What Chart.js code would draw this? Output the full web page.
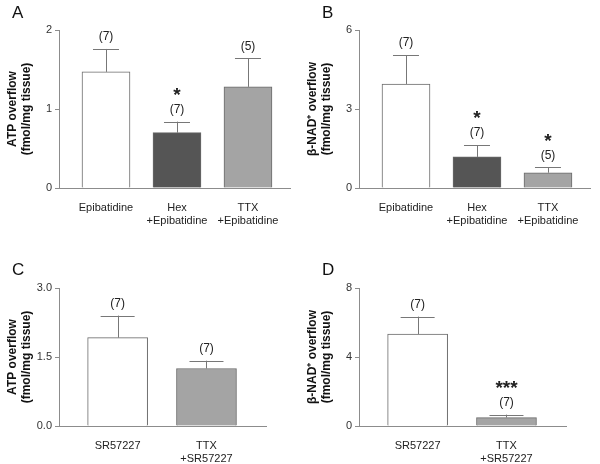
<!DOCTYPE html>
<html>
<head>
<meta charset="utf-8">
<script src="https://cdn.jsdelivr.net/npm/chart.js@4"></script>
<style>
  body { margin: 0; background: #fff; }
  .panel { position: absolute; width: 300px; height: 232px; }
  .lbl { position: absolute; font: 17px "Liberation Sans", Arial, sans-serif; color: #111; }
</style>
</head>
<body>
<div class="panel" style="left:0;top:0"><canvas id="chartA"></canvas></div>
<div class="panel" style="left:300px;top:0"><canvas id="chartB"></canvas></div>
<div class="panel" style="left:0;top:232px"><canvas id="chartC"></canvas></div>
<div class="panel" style="left:300px;top:232px"><canvas id="chartD"></canvas></div>
<div class="lbl" style="left:12px;top:3px">A</div>
<div class="lbl" style="left:322px;top:3px">B</div>
<div class="lbl" style="left:12px;top:260px">C</div>
<div class="lbl" style="left:322px;top:260px">D</div>
<script>
// top row: epibatidine
const catsAB = ['Epibatidine', ['Hex', '+Epibatidine'], ['TTX', '+Epibatidine']];
const atpA = [1.47, 0.70, 1.28];
const atpASem = [0.29, 0.14, 0.36];
const nA = ['(7)', '(7)', '(5)'];
const starsA = ['', '*', ''];
const nadB = [3.95, 1.18, 0.58];
const nadBSem = [1.10, 0.45, 0.20];
const nB = ['(7)', '(7)', '(5)'];
const starsB = ['', '*', '*'];

// bottom row: SR57227
const catsCD = ['SR57227', ['TTX', '+SR57227']];
const atpC = [1.92, 1.25];
const atpCSem = [0.48, 0.17];
const nC = ['(7)', '(7)'];
const starsC = ['', ''];
const nadD = [5.33, 0.49];
const nadDSem = [1.01, 0.17];
const nD = ['(7)', '(7)'];
const starsD = ['', '***'];

const FONT = '"Liberation Sans", Arial, sans-serif';
const AXIS = '#8c8c8c';
const WHITE = '#ffffff', DARK = '#555555', LIGHT = '#a4a4a4';

const errPlugin = {
  id: 'errBars',
  afterDatasetsDraw(chart, args, opts) {
    const { ctx } = chart;
    const y = chart.scales.y;
    const meta = chart.getDatasetMeta(0);
    const ds = chart.data.datasets[0];
    ctx.save();
    meta.data.forEach((bar, i) => {
      const v = ds.data[i].y;
      const top = y.getPixelForValue(v + opts.sem[i]);
      const base = y.getPixelForValue(v);
      ctx.strokeStyle = '#777';
      ctx.lineWidth = 1;
      ctx.beginPath();
      ctx.moveTo(Math.round(bar.x) + 0.5, base);
      ctx.lineTo(Math.round(bar.x) + 0.5, top);
      ctx.moveTo(bar.x - opts.cap, Math.round(top) + 0.5);
      ctx.lineTo(bar.x + opts.cap, Math.round(top) + 0.5);
      ctx.stroke();
      ctx.fillStyle = '#222';
      ctx.textAlign = 'center';
      ctx.textBaseline = 'middle';
      ctx.font = '12px ' + FONT;
      ctx.fillText(opts.n[i], bar.x, top - 12);
      if (opts.stars[i]) {
        ctx.font = 'bold 19px ' + FONT;
        ctx.fillText(opts.stars[i], bar.x, top - 26);
      }
    });
    ctx.restore();
  }
};

function makePanel(id, cats, vals, sem, n, stars, colors, cfg) {
  const ctx = document.getElementById(id);
  return new Chart(ctx, {
    type: 'bar',
    data: {
      datasets: [{
        data: vals.map((v, i) => ({ x: i, y: v })),
        backgroundColor: colors,
        borderColor: '#6a6a6a',
        borderWidth: 1,
        barThickness: cfg.barW
      }]
    },
    options: {
      responsive: true,
      maintainAspectRatio: false,
      animation: false,
      layout: { padding: { top: cfg.top, right: cfg.right, left: 0, bottom: 0 } },
      plugins: {
        legend: { display: false },
        tooltip: { enabled: false },
        errBars: { sem, n, stars, cap: cfg.cap }
      },
      scales: {
        x: {
          type: 'linear',
          offset: false,
          min: cfg.xmin,
          max: cfg.xmax,
          afterBuildTicks: s => { s.ticks = cats.map((_, i) => ({ value: i })); },
          afterFit: s => { s.height = cfg.xh; },
          grid: { display: false, offset: false },
          border: { color: AXIS, width: 1 },
          ticks: {
            autoSkip: false,
            maxRotation: 0,
            padding: 5,
            color: '#222',
            font: { family: FONT, size: 11 },
            callback: v => cats[v]
          }
        },
        y: {
          min: 0,
          max: cfg.ymax,
          afterBuildTicks: s => {
            const t = [];
            for (let v = 0; v <= cfg.ymax + 1e-9; v += cfg.step) t.push({ value: v });
            s.ticks = t;
          },
          afterFit: s => { s.width = 59; },
          grid: { drawOnChartArea: false, color: AXIS, tickLength: 4 },
          border: { color: AXIS, width: 1 },
          ticks: {
            padding: 3,
            color: '#333',
            font: { family: FONT, size: 11 },
            callback: v => cfg.dec ? v.toFixed(cfg.dec) : String(v)
          },
          title: {
            display: true,
            text: cfg.title,
            color: '#111',
            font: { family: FONT, size: 12, weight: 'bold' },
            padding: { top: 5, bottom: 0 }
          }
        }
      }
    },
    plugins: [errPlugin]
  });
}

const topCfg = { barW: 48, cap: 13, top: 30, right: 10, xh: 44, xmin: -0.662, xmax: 2.592 };
const botCfg = { barW: 60, cap: 17, top: 56, right: 34, xh: 38, xmin: -0.66, xmax: 1.67 };

makePanel('chartA', catsAB, atpA, atpASem, nA, starsA, [WHITE, DARK, LIGHT],
  Object.assign({}, topCfg, { ymax: 2, step: 1, title: ['ATP overflow', '(fmol/mg tissue)'] }));
makePanel('chartB', catsAB, nadB, nadBSem, nB, starsB, [WHITE, DARK, LIGHT],
  Object.assign({}, topCfg, { ymax: 6, step: 3, title: ['β-NAD⁺ overflow', '(fmol/mg tissue)'] }));
makePanel('chartC', catsCD, atpC, atpCSem, nC, starsC, [WHITE, LIGHT],
  Object.assign({}, botCfg, { ymax: 3, step: 1.5, dec: 1, title: ['ATP overflow', '(fmol/mg tissue)'] }));
makePanel('chartD', catsCD, nadD, nadDSem, nD, starsD, [WHITE, LIGHT],
  Object.assign({}, botCfg, { ymax: 8, step: 4, title: ['β-NAD⁺ overflow', '(fmol/mg tissue)'] }));
</script>
</body>
</html>
